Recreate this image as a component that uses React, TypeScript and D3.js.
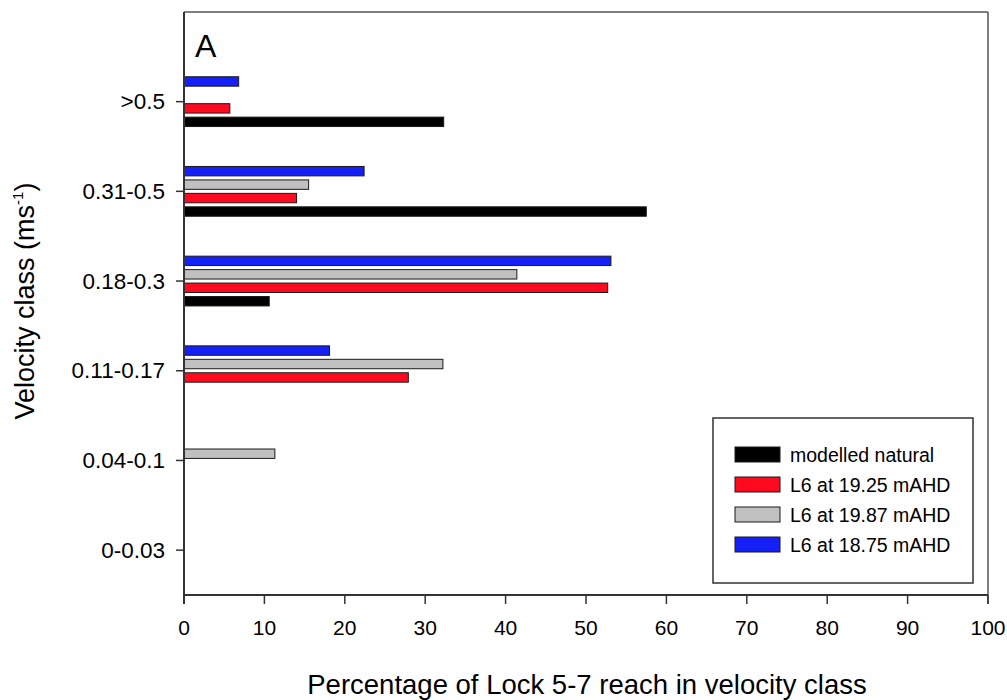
import React from "react";
import * as d3 from "d3";

const categories = ["0-0.03", "0.04-0.1", "0.11-0.17", "0.18-0.3", "0.31-0.5", ">0.5"];
const seriesNames = ["modelled natural", "L6 at 19.25 mAHD", "L6 at 19.87 mAHD", "L6 at 18.75 mAHD"];
const seriesColors = ["#000000", "#ff0a1e", "#c0c0c0", "#1420f5"];
// values per category (same order as categories)
const modelledNatural = [0, 0, 0, 10.6, 57.5, 32.3];
const l6_1925 = [0, 0, 27.9, 52.7, 14.0, 5.7];
const l6_1987 = [0, 11.3, 32.2, 41.4, 15.5, 0];
const l6_1875 = [0, 0, 18.1, 53.1, 22.4, 6.8];
const seriesValues = [modelledNatural, l6_1925, l6_1987, l6_1875];
const xTicks = [0, 10, 20, 30, 40, 50, 60, 70, 80, 90, 100];

const W = 1007;
const H = 700;
const left = 184;
const right = 988;
const top = 12;
const bottom = 595;
const font = "'Liberation Sans', Arial, Helvetica, sans-serif";

export default function App() {
  const x = d3.scaleLinear().domain([0, 100]).range([left, right]);
  const step = 89.7;
  const y = d3
    .scaleBand<string>()
    .domain(categories)
    .range([bottom, bottom - step * categories.length])
    .paddingInner(0.4)
    .paddingOuter(0.2);
  const inner = d3
    .scaleBand<number>()
    .domain([0, 1, 2, 3])
    .range([y.bandwidth(), 0])
    .paddingInner(0.3)
    .paddingOuter(0.15);

  const catCenter = (c: string) => (y(c) as number) + y.bandwidth() / 2;

  return (
    <svg width={W} height={H} style={{ position: "absolute", left: 0, top: 0 }} fontFamily={font}>
      <rect x={0} y={0} width={W} height={H} fill="#fff" />
      {/* bars */}
      {categories.map((c, ci) =>
        seriesValues.map((vals, si) =>
          vals[ci] > 0 ? (
            <rect
              key={`${ci}-${si}`}
              x={x(0)}
              y={(y(c) as number) + (inner(si) as number)}
              width={x(vals[ci]) - x(0)}
              height={inner.bandwidth()}
              fill={seriesColors[si]}
              stroke="#1a1a1a"
              strokeWidth={1}
            />
          ) : null
        )
      )}
      {/* frame */}
      <line x1={left} x2={right} y1={top} y2={top} stroke="#555" strokeWidth={1.5} />
      <line x1={right} x2={right} y1={top} y2={bottom + 9} stroke="#555" strokeWidth={1.5} />
      <line x1={left} x2={left} y1={top} y2={bottom + 9} stroke="#333" strokeWidth={2} />
      <line x1={left} x2={right} y1={bottom} y2={bottom} stroke="#333" strokeWidth={2} />
      {/* x ticks */}
      {xTicks.map((t) => (
        <g key={t}>
          <line x1={x(t)} x2={x(t)} y1={bottom} y2={bottom + 9} stroke="#333" strokeWidth={1.5} />
          <text x={x(t)} y={635} fontSize={21} textAnchor="middle" fill="#000">
            {t}
          </text>
        </g>
      ))}
      {/* y ticks */}
      {categories.map((c) => (
        <g key={c}>
          <line x1={left - 8} x2={left} y1={catCenter(c)} y2={catCenter(c)} stroke="#333" strokeWidth={1.5} />
          <text x={165} y={catCenter(c)} fontSize={22.5} textAnchor="end" dominantBaseline="central" fill="#000">
            {c}
          </text>
        </g>
      ))}
      {/* axis titles */}
      <text x={587} y={694} fontSize={27.5} textAnchor="middle" fill="#000">
        Percentage of Lock 5-7 reach in velocity class
      </text>
      <text transform="translate(34,301) rotate(-90)" fontSize={27} textAnchor="middle" fill="#000">
        Velocity class (ms
        <tspan fontSize={15} dy={-11}>-1</tspan>
        <tspan dy={11}>)</tspan>
      </text>
      {/* panel label */}
      <text x={195} y={57} fontSize={32} fill="#000">
        A
      </text>
      {/* legend */}
      <rect x={713} y={418} width={260} height={165} fill="#fff" stroke="#333" strokeWidth={1.5} />
      {seriesNames.map((n, i) => (
        <g key={n}>
          <rect x={735} y={447 + i * 30} width={45} height={15} fill={seriesColors[i]} stroke="#1a1a1a" strokeWidth={1} />
          <text x={790} y={455 + i * 30} fontSize={19.5} dominantBaseline="central" fill="#000">
            {n}
          </text>
        </g>
      ))}
    </svg>
  );
}
